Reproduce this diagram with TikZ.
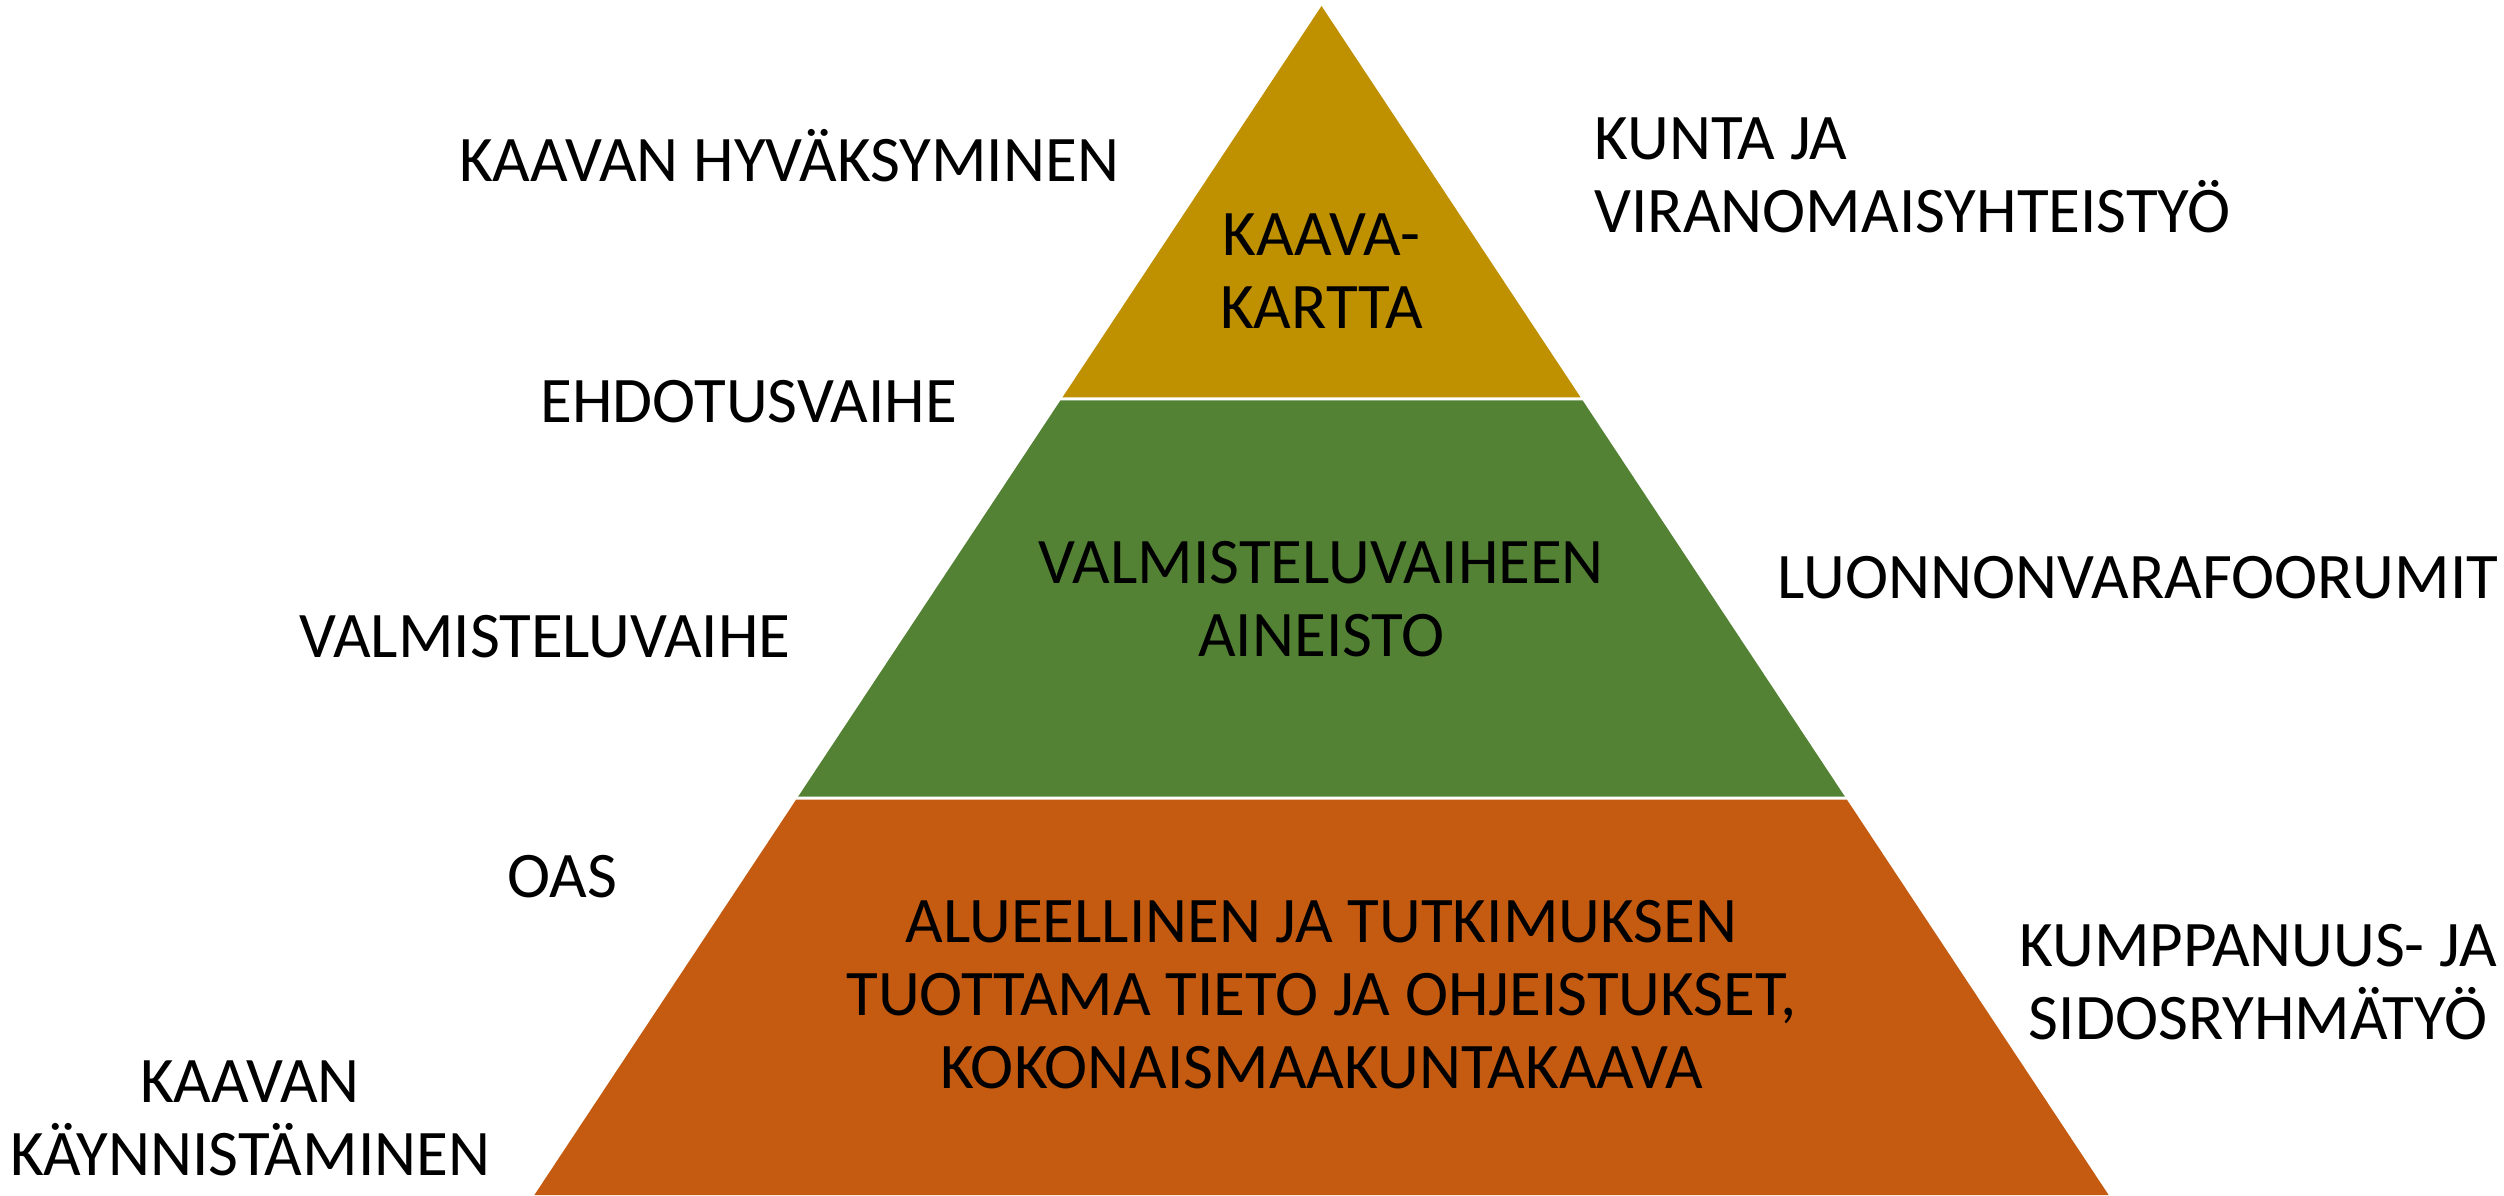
\documentclass[tikz,border=0pt]{standalone}
\usepackage{fontspec}
\setmainfont{Carlito}
\usepackage{tikz}

\definecolor{KaavaGold}{HTML}{BF9000}
\definecolor{ValmGreen}{HTML}{548235}
\definecolor{TietoOrange}{HTML}{C55A11}

\begin{document}
\begin{tikzpicture}[
  lbl/.style={align=center, inner sep=0pt, font=\fontsize{18.5}{20.8}\selectfont},
  lblleft/.style={lbl, align=left, anchor=west}]
%
\path[use as bounding box] (0,0) rectangle (25.04,11.95);
%
\def\apexx{13.215}
\def\apexy{11.89}
\newcommand{\layer}[3]{
  \pgfmathsetmacro{\wbot}{(\apexy-#1)*0.662}
  \pgfmathsetmacro{\wtop}{(\apexy-#2)*0.662}
  \fill[#3] (\apexx-\wbot, #1) -- (\apexx+\wbot, #1) -- (\apexx+\wtop, #2) -- (\apexx-\wtop, #2) -- cycle;
}
%
\layer{0}{3.955}{TietoOrange}
\layer{3.985}{7.945}{ValmGreen}
\layer{7.975}{\apexy}{KaavaGold}
%
% texts inside the pyramid
\node[lbl] (kartta) at (\apexx, 9.24) {KAAVA-\\KARTTA};
\node[lbl] (aineisto) at (\apexx, 5.96) {VALMISTELUVAIHEEN\\AINEISTO};
\node[lbl] (tieto) at (\apexx, 2.00) {ALUEELLINEN JA TUTKIMUKSEN\\TUOTTAMA TIETO JA OHJEISTUKSET,\\KOKONAISMAAKUNTAKAAVA};
%
% phases on the left
\node[lbl] (hyvaksyminen) at (7.89, 10.39) {KAAVAN HYVÄKSYMINEN};
\node[lbl] (ehdotus) at (7.49, 7.93) {EHDOTUSVAIHE};
\node[lbl] (valmistelu) at (5.45, 5.58) {VALMISTELUVAIHE};
\node[lbl] (oas) at (5.62, 3.18) {OAS};
\node[lbl] (kaynnistys) at (2.50, 0.77) {KAAVAN\\KÄYNNISTÄMINEN};
%
% cooperation on the right
\node[lblleft] (kunta) at (15.94, 10.20) {KUNTA JA\\VIRANOMAISYHTEISTYÖ};
\node[lbl] (foorumit) at (21.38, 6.17) {LUONNONVARAFOORUMIT};
\node[lbl] (kumppanuus) at (22.58, 2.13) {KUMPPANUUS- JA\\SIDOSRYHMÄTYÖ};
%
\end{tikzpicture}
\end{document}
